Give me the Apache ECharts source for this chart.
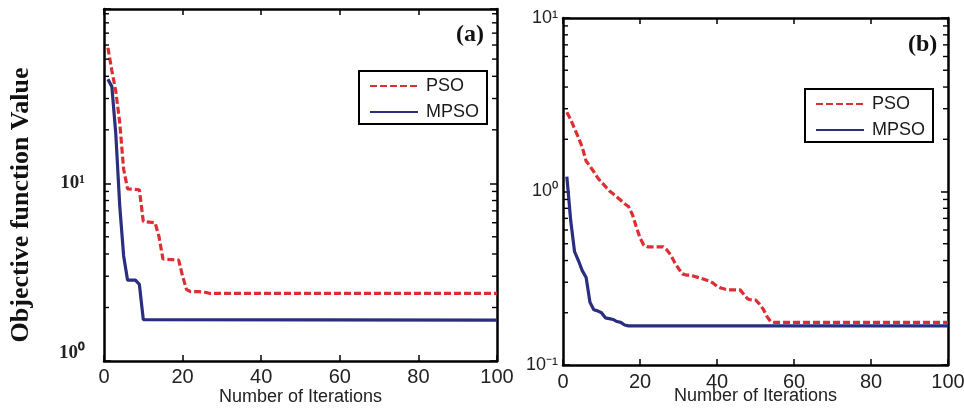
<!DOCTYPE html>
<html>
<head>
<meta charset="utf-8">
<script src="https://cdn.jsdelivr.net/npm/echarts@6/dist/echarts.min.js"></script>
<style>
html,body{margin:0;padding:0;background:#fff;overflow:hidden;}
#main{width:964px;height:409px;}
</style>
</head>
<body>
<div id="main"></div>
<script>
// ---- data ----
const seriesNames = ['PSO', 'MPSO'];
const panelLabels = ['(a)', '(b)'];
const xTitle = 'Number of Iterations';
const yTitle = 'Objective function Value';

// panel (a)
const iterPsoA = [1, 2, 3, 4, 5, 6, 9, 10, 13, 14, 15, 19, 20, 21, 22, 24, 26, 27, 100];
const psoA     = [58, 43, 33, 22, 12, 9.3, 9.2, 6.1, 6.0, 5.0, 3.75, 3.7, 3.0, 2.52, 2.46, 2.46, 2.43, 2.40, 2.40];
const iterMpsoA = [1, 2, 3, 4, 5, 6, 8, 9, 10, 100];
const mpsoA     = [38.5, 35, 19, 7.5, 3.9, 2.85, 2.85, 2.7, 1.71, 1.70];

// panel (b)
const iterPsoB = [1,2,3,4,5,6,7,8,9,10,11,12,13,14,15,16,17,18,19,20,21,22,23,24,25,26,27,28,29,30,31,32,33,34,35,36,37,38,39,40,41,42,43,44,45,46,47,48,49,50,51,52,53,54,55,100];
const psoB = [2.86,2.6,2.3,2.05,1.8,1.5,1.4,1.3,1.2,1.13,1.07,1.01,0.97,0.93,0.89,0.85,0.82,0.74,0.63,0.54,0.49,0.48,0.48,0.48,0.48,0.48,0.46,0.43,0.39,0.36,0.335,0.33,0.33,0.325,0.32,0.315,0.31,0.305,0.296,0.285,0.278,0.274,0.271,0.271,0.271,0.271,0.255,0.24,0.237,0.237,0.225,0.21,0.19,0.177,0.176,0.176];
const iterMpsoB = [1,2,3,4,5,6,7,8,9,10,11,12,13,14,15,16,17,100];
const mpsoB = [1.22,0.68,0.45,0.40,0.35,0.32,0.23,0.208,0.205,0.2,0.187,0.185,0.183,0.178,0.176,0.17,0.168,0.168];

// axes
const xMin = 0, xMax = 100, xStep = 20;
const yRangeA = [1, 95.7];
const yRangeB = [0.1, 10];
const yLabelsA = { 1: '10⁰', 10: '10¹' };
const yLabelsB = { 0.1: '10⁻¹', 1: '10⁰', 10: '10¹' };
const minorTicksA = [2,3,4,5,6,7,8,9,20,30,40,50,60,70,80,90];
const minorTicksB = [0.2,0.3,0.4,0.5,0.6,0.7,0.8,0.9,2,3,4,5,6,7,8,9];

// ---- styles ----
const RED = '#dc2f33';
const NAVY = '#2b2e7e';
const pairs = (xs, ys) => xs.map((x, i) => [x, ys[i]]);
function findLabel(map, v) {
  for (const k in map) { if (Math.abs(+k - v) / +k < 1e-6) return map[k]; }
  return '';
}
function xAxes(gridIndex, nameGap, margin) {
  return [
    {
      type: 'value', gridIndex, min: xMin, max: xMax, interval: xStep, position: 'bottom',
      name: xTitle, nameLocation: 'middle', nameGap, nameMoveOverlap: false,
      nameTextStyle: { fontFamily: 'Liberation Sans', fontSize: 18, color: '#222' },
      axisLine: { show: true, onZero: false, lineStyle: { color: '#000', width: 2.5 } },
      axisTick: { show: true, inside: true, length: 6, lineStyle: { color: '#000', width: 1.5 } },
      axisLabel: { fontFamily: 'Liberation Sans', fontSize: 20, color: '#222', margin },
      splitLine: { show: false }
    },
    {
      type: 'value', gridIndex, min: xMin, max: xMax, interval: xStep, position: 'top',
      axisLine: { show: true, onZero: false, lineStyle: { color: '#000', width: 2.5 } },
      axisTick: { show: true, inside: true, length: 6, lineStyle: { color: '#000', width: 1.5 } },
      axisLabel: { show: false }, splitLine: { show: false }
    }
  ];
}
function yAxes(gridIndex, range, labels, font, margin, liftBottom, withName) {
  const left = {
    type: 'log', logBase: 10, gridIndex, min: range[0], max: range[1], position: 'left',
    axisLine: { show: true, onZero: false, lineStyle: { color: '#000', width: 2.5 } },
    axisTick: { show: true, inside: true, length: 7, lineStyle: { color: '#000', width: 1.5 } },
    axisLabel: {
      margin, fontFamily: font.family, fontWeight: font.weight, fontSize: font.size, color: '#222',
      formatter: v => {
        const t = findLabel(labels, v);
        if (!t) return '';
        return (liftBottom && Math.abs(v - range[0]) < 1e-9) ? '{lo|' + t + '}' : t;
      },
      rich: { lo: { fontFamily: font.family, fontWeight: font.weight, fontSize: font.size, color: '#222', padding: [0, 0, 16, 0] } }
    },
    splitLine: { show: false }
  };
  if (withName) {
    Object.assign(left, {
      name: yTitle, nameLocation: 'middle', nameGap: 70, nameRotate: 90, nameMoveOverlap: false,
      nameTextStyle: { fontFamily: 'Liberation Serif', fontWeight: 'bold', fontSize: 26, color: '#111', padding: [0, 40, 0, 0] }
    });
  }
  const right = {
    type: 'log', logBase: 10, gridIndex, min: range[0], max: range[1], position: 'right',
    axisLine: { show: true, onZero: false, lineStyle: { color: '#000', width: 2.5 } },
    axisTick: { show: true, inside: true, length: 7, lineStyle: { color: '#000', width: 1.5 } },
    axisLabel: { show: false }, splitLine: { show: false }
  };
  return [left, right];
}
function minorTickSeries(xIdx, yIdx, ticks) {
  return {
    type: 'custom', xAxisIndex: xIdx, yAxisIndex: yIdx, silent: true, clip: false, z: 5,
    data: ticks.map(t => [xMin, t]),
    renderItem: (params, api) => {
      const y = api.coord([xMin, api.value(1)])[1];
      const cs = params.coordSys;
      const st = { stroke: '#000', lineWidth: 1.4 };
      return {
        type: 'group', children: [
          { type: 'line', shape: { x1: cs.x, y1: y, x2: cs.x + 5, y2: y }, style: st },
          { type: 'line', shape: { x1: cs.x + cs.width - 5, y1: y, x2: cs.x + cs.width, y2: y }, style: st }
        ]
      };
    }
  };
}
function lineSeries(name, xIdx, yIdx, data, color, dashed) {
  return {
    name, type: 'line', xAxisIndex: xIdx, yAxisIndex: yIdx, data,
    symbol: 'none', showSymbol: false, animation: false,
    lineStyle: { color, width: 3.2, type: dashed ? [7, 3] : 'solid' },
    itemStyle: { color }
  };
}
function legend(left, top) {
  return {
    data: seriesNames, orient: 'vertical', left, top,
    itemWidth: 48, itemHeight: 14, itemGap: 8, padding: [6, 8, 3, 10],
    borderColor: '#000', borderWidth: 2, backgroundColor: '#fff',
    itemStyle: { opacity: 0 }, selectedMode: false,
    textStyle: { fontFamily: 'Liberation Sans', fontSize: 18, color: '#1a1a1a', padding: [0, 0, 0, 3] }
  };
}
const chart = echarts.init(document.getElementById('main'), null, { renderer: 'canvas' });
chart.setOption({
  animation: false, backgroundColor: '#fff',
  title: [
    { text: panelLabels[0], left: 451, top: 18, textStyle: { fontFamily: 'Liberation Serif', fontWeight: 'bold', fontSize: 24, color: '#111' } },
    { text: panelLabels[1], left: 903, top: 28, textStyle: { fontFamily: 'Liberation Serif', fontWeight: 'bold', fontSize: 24, color: '#111' } }
  ],
  grid: [
    { left: 104, right: 467, top: 9, bottom: 48, containLabel: false, outerBoundsMode: 'none' },
    { left: 563, right: 16, top: 18, bottom: 44, containLabel: false, outerBoundsMode: 'none' }
  ],
  legend: [legend(359, 71), legend(805, 89)],
  xAxis: [...xAxes(0, 27, 6), ...xAxes(1, 22, 7)],
  yAxis: [
    ...yAxes(0, yRangeA, yLabelsA, { family: 'Liberation Serif', weight: 'bold', size: 19 }, 19, true, true),
    ...yAxes(1, yRangeB, yLabelsB, { family: 'Liberation Sans', weight: 'normal', size: 18 }, 5, false, false)
  ],
  series: [
    minorTickSeries(0, 0, minorTicksA),
    minorTickSeries(2, 2, minorTicksB),
    lineSeries(seriesNames[0], 0, 0, pairs(iterPsoA, psoA), RED, true),
    lineSeries(seriesNames[1], 0, 0, pairs(iterMpsoA, mpsoA), NAVY, false),
    lineSeries(seriesNames[0], 2, 2, pairs(iterPsoB, psoB), RED, true),
    lineSeries(seriesNames[1], 2, 2, pairs(iterMpsoB, mpsoB), NAVY, false)
  ]
});
</script>
</body>
</html>
